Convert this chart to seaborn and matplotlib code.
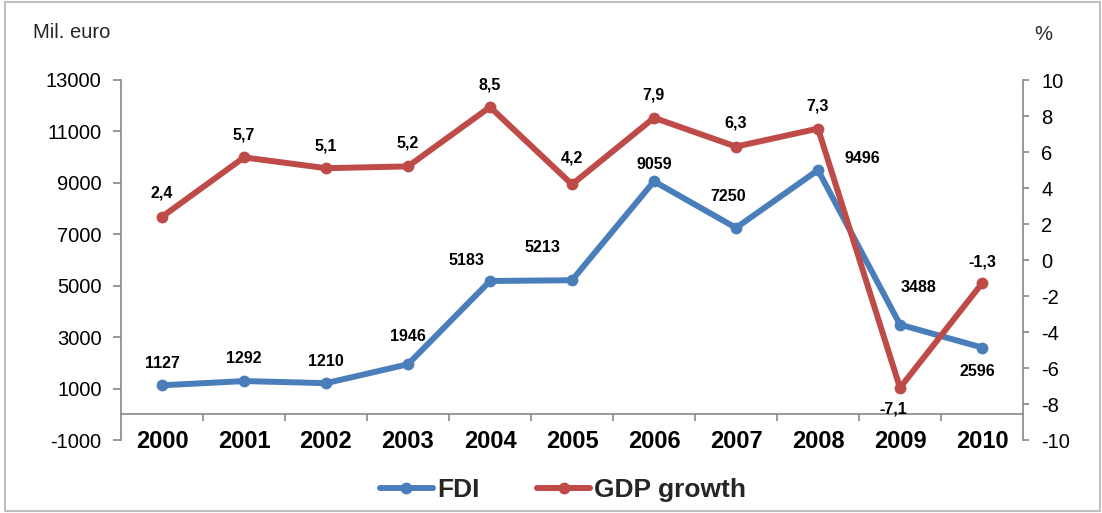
import matplotlib
matplotlib.use("Agg")
import matplotlib.pyplot as plt
from matplotlib.patches import Rectangle
import numpy as np
import pandas as pd
import seaborn as sns

# Data
years = ["2000", "2001", "2002", "2003", "2004", "2005",
         "2006", "2007", "2008", "2009", "2010"]
fdi = [1127, 1292, 1210, 1946, 5183, 5213, 9059, 7250, 9496, 3488, 2596]
gdp_growth = [2.4, 5.7, 5.1, 5.2, 8.5, 4.2, 7.9, 6.3, 7.3, -7.1, -1.3]

left_ticks = list(range(-1000, 13001, 2000))
right_ticks = list(range(-10, 11, 2))

BLUE = "#4A7EBB"
RED = "#BE4B48"
GRAY = "#888888"

sns.set_theme(style="white")
plt.rcParams["font.family"] = ["Liberation Sans", "DejaVu Sans"]
plt.rcParams["axes.unicode_minus"] = False

df = pd.DataFrame({"pos": np.arange(len(years)), "year": years,
                   "fdi": fdi, "gdp": gdp_growth})

fig = plt.figure(figsize=(11.02, 5.13), dpi=100)
W, H = 1102, 513
ax = fig.add_axes([121 / W, 1 - 440 / H, (1023 - 121) / W, 360 / H])
ax2 = ax.twinx()

line_kw = dict(linewidth=4.3, marker="o", markersize=8.5, markeredgewidth=0)
sns.lineplot(data=df, x="pos", y="fdi", ax=ax, color=BLUE, **line_kw)
sns.lineplot(data=df, x="pos", y="gdp", ax=ax2, color=RED, **line_kw)

ax.set_xlim(-0.5, len(years) - 0.5)
ax.set_ylim(-1000, 13000)
ax2.set_ylim(-10, 10)
for a in (ax, ax2):
    a.set_xlabel("")
    a.set_ylabel("")
    a.grid(False)

# spines
for s in ("top", "right"):
    ax.spines[s].set_visible(False)
for s in ("top", "left", "bottom"):
    ax2.spines[s].set_visible(False)
ax.spines["left"].set_color(GRAY)
ax2.spines["right"].set_color(GRAY)
ax.spines["bottom"].set_color(GRAY)
ax.spines["bottom"].set_position(("data", 0))
for s in ("left", "bottom"):
    ax.spines[s].set_linewidth(1.2)
ax2.spines["right"].set_linewidth(1.2)

# left axis
ax.set_yticks(left_ticks)
ax.set_yticklabels([str(v) for v in left_ticks])
ax.tick_params(axis="y", which="major", direction="out", length=6, width=1.2,
               color=GRAY, labelsize=14.5, pad=8, left=True, labelcolor="black")
# right axis
ax2.set_yticks(right_ticks)
ax2.set_yticklabels([str(v) for v in right_ticks])
ax2.tick_params(axis="y", which="major", direction="out", length=4, width=1.2,
                color=GRAY, labelsize=14.5, pad=9, right=True, labelcolor="black")

# category axis: labels at centres, separators between categories
ax.set_xticks(range(len(years)))
ax.set_xticklabels(years, fontweight="bold")
ax.set_xticks(np.arange(0.5, len(years) - 1, 1.0), minor=True)
ax.tick_params(axis="x", which="major", length=0, labelsize=17, pad=11,
               labelcolor="black", bottom=True)
ax.tick_params(axis="x", which="minor", direction="out", length=5, width=1.2,
               color=GRAY, bottom=True)

# value labels
fdi_off = [(0, 22), (0, 23), (0, 22), (0, 28), (-24, 21), (-30, 33),
           (0, 17), (-8, 31), (44, 12), (18, 37), (-5, -24)]
gdp_off = [(0, 24), (0, 22), (0, 22), (0, 23), (0, 22), (0, 26),
           (0, 23), (0, 24), (0, 23), (-7, -21), (0, 21)]
for i, v in enumerate(fdi):
    ax.annotate(f"{v}", (i, v), xytext=fdi_off[i], textcoords="offset pixels",
                ha="center", va="center", fontsize=11.5, fontweight="bold",
                color="black")
for i, v in enumerate(gdp_growth):
    ax2.annotate(f"{v:.1f}".replace(".", ","), (i, v), xytext=gdp_off[i],
                 textcoords="offset pixels", ha="center", va="center",
                 fontsize=11.5, fontweight="bold", color="black")

# axis unit titles
fig.text(33 / W, 1 - 33 / H, "Mil. euro", fontsize=14.5, ha="left", va="center")
fig.text(1043 / W, 1 - 35 / H, "%", fontsize=14.5, ha="center", va="center")

# legend
handles = [ax.get_lines()[0], ax2.get_lines()[0]]
fig.legend(handles, ["FDI", "GDP growth"], loc="center",
           bbox_to_anchor=(563 / W, 1 - 490 / H), ncol=2, frameon=False,
           prop={"weight": "bold", "size": 19}, handlelength=2.0,
           handletextpad=0.15, columnspacing=2.2)

# outer frame
fig.patches.append(Rectangle((5 / W, 2 / H), 1095 / W, 509 / H,
                             transform=fig.transFigure, fill=False,
                             edgecolor="#BFBFBF", linewidth=1.5))

fig.savefig("out.png", dpi=100)
